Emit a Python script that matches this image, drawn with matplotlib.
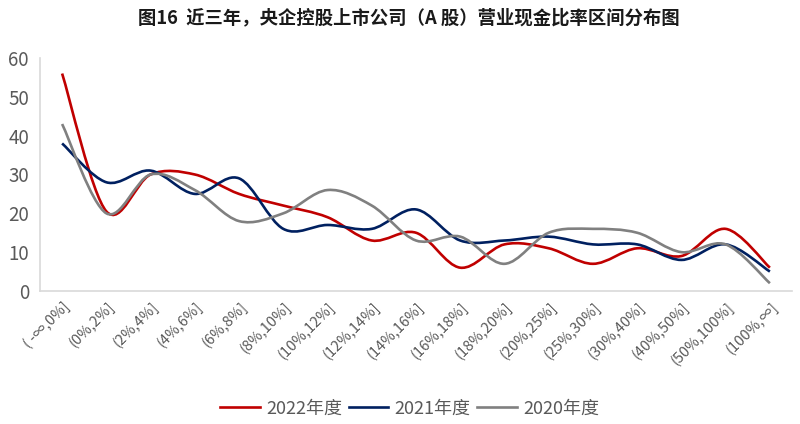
import numpy as np
import matplotlib
matplotlib.use('Agg')
import matplotlib.pyplot as plt
from matplotlib.path import Path
from matplotlib.patches import PathPatch
from matplotlib.lines import Line2D

plt.rcParams['font.family'] = ['Noto Sans CJK SC', 'DejaVu Sans']

categories = ['( -∞,0%]', '(0%,2%]', '(2%,4%]', '(4%,6%]', '(6%,8%]', '(8%,10%]',
              '(10%,12%]', '(12%,14%]', '(14%,16%]', '(16%,18%]', '(18%,20%]',
              '(20%,25%]', '(25%,30%]', '(30%,40%]', '(40%,50%]', '(50%,100%]', '(100%,∞]']
y2022 = [56, 20.5, 30, 30, 25, 22, 19, 13, 15, 6, 12, 11, 7, 11, 9, 16, 6]
y2021 = [38, 28, 31, 25, 29, 16, 17, 16, 21, 13, 13, 14, 12, 12, 8, 12, 5]
y2020 = [43, 20, 30, 26, 18, 20, 26, 22, 13, 14, 7, 15, 16, 15, 10, 12, 2]

series = [('2022年度', y2022, '#C00000'),
          ('2021年度', y2021, '#002060'),
          ('2020年度', y2020, '#808080')]


def smooth_path(xs, ys):
    # cubic bezier through the points, catmull-rom style like excel's smoothed line
    p = np.column_stack([xs, ys]).astype(float)
    ext = np.vstack([p[0], p, p[-1]])
    verts = [p[0]]
    codes = [Path.MOVETO]
    for i in range(len(p) - 1):
        p0, p1, p2, p3 = ext[i], ext[i + 1], ext[i + 2], ext[i + 3]
        c1 = p1 + (p2 - p0) / 6
        c2 = p2 - (p3 - p1) / 6
        verts += [c1, c2, p2]
        codes += [Path.CURVE4] * 3
    return Path(verts, codes)


fig = plt.figure(figsize=(8, 4.24), dpi=100)
ax = fig.add_axes([0.05, 0.3137, 0.94, 0.5495])

x = np.arange(len(categories))
for name, vals, col in series:
    ax.add_patch(PathPatch(smooth_path(x, vals), fill=False, edgecolor=col,
                           lw=1.9, capstyle='butt', joinstyle='round'))

ax.set_xlim(-0.5, len(categories) - 0.5)
ax.set_ylim(0, 60)
ax.set_yticks(range(0, 61, 10))
ax.set_xticks(x)
ax.set_xticklabels(categories, rotation=45, ha='right', va='top',
                   rotation_mode='anchor', fontsize=10.5, color='#595959')
ax.tick_params(axis='y', length=0, pad=8, labelsize=13.5, labelcolor='#595959')
ax.tick_params(axis='x', length=0, pad=6)
for s in ['top', 'right']:
    ax.spines[s].set_visible(False)
for s in ['left', 'bottom']:
    ax.spines[s].set_color('#D9D9D9')
    ax.spines[s].set_linewidth(1.2)

fig.text(0.511, 0.958, '图16  近三年，央企控股上市公司（A 股）营业现金比率区间分布图',
         ha='center', va='center', fontsize=13.2, fontweight='bold', color='#1a1a1a')

handles = [Line2D([], [], color=c, lw=1.9) for _, _, c in series]
fig.legend(handles, [n for n, _, _ in series], loc='center', bbox_to_anchor=(0.512, 0.036),
           ncol=3, frameon=False, fontsize=13, labelcolor='#595959',
           handlelength=2.2, handletextpad=0.35, columnspacing=0.35)

fig.savefig('out.png', dpi=100)
